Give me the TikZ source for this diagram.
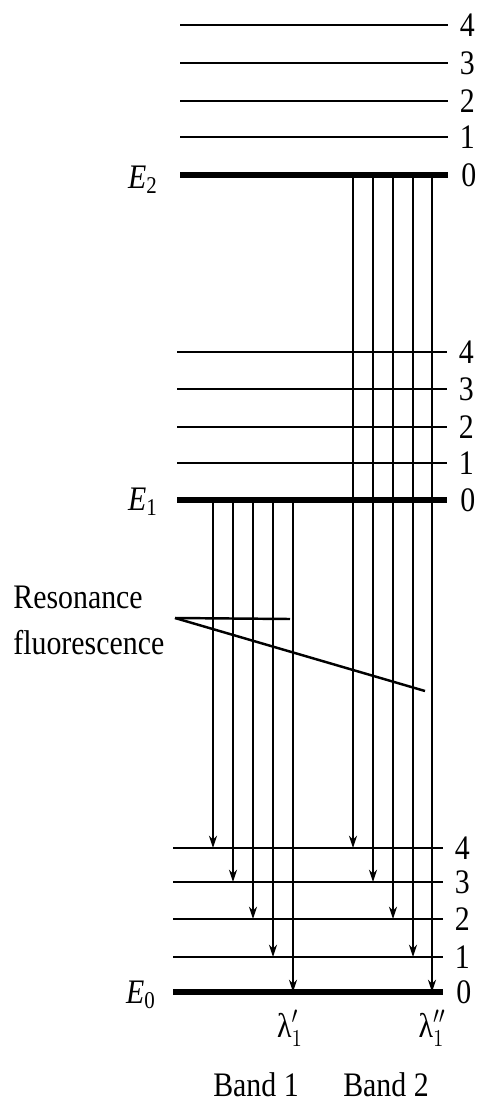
\documentclass[tikz,border=0pt]{standalone}
\usepackage{fontspec}
\setmainfont{Liberation Serif}
\usetikzlibrary{arrows.meta}
\newcommand{\bigtxt}{\fontsize{17}{22.7}\selectfont}
\tikzset{
  level/.style  = {line width=1.4pt},
  ground/.style = {line width=3.1pt},
  trans/.style  = {-{Stealth[length=7pt,width=4.6pt]},line width=0.65pt},
  vnum/.style   = {right,inner sep=0pt,xshift=6pt,yscale=1.15,font=\bigtxt},
  elab/.style   = {inner sep=0pt,yscale=1.15,font=\bigtxt}
}
% one stack of vibrational levels: name, left x, right x, y of v=4..0
\newcommand{\vibstack}[8]{%
  \foreach \v/\y in {4/#4,3/#5,2/#6,1/#7}{
    \coordinate (#1\v-L) at (#2,\y);
    \coordinate (#1\v-R) at (#3,\y);
    \draw[level] (#1\v-L) -- (#1\v-R) node[vnum]{\v};
  }
  \coordinate (#10-L) at (#2,#8);
  \coordinate (#10-R) at (#3,#8);
  \draw[ground] (#10-L) -- (#10-R) node[vnum]{0};
}

\begin{document}
\begin{tikzpicture}[x=0.02cm,y=-0.02cm]
  \useasboundingbox (0,0) rectangle (490,1109);
  \vibstack{c}{180}{448}{25}{63}{101}{137}{175}
  \vibstack{b}{177}{447}{352}{389}{427}{463}{500}
  \vibstack{a}{173}{443}{848}{882}{919}{957}{992}
  \node[elab] (E2) at (143,180) {\textit{E}\textsubscript{2}};
  \node[elab] (E1) at (143,502) {\textit{E}\textsubscript{1}};
  \node[elab] (E0) at (141,995) {\textit{E}\textsubscript{0}};
  % band 1: from E1 v=0 down to E0
  \foreach \v/\x in {4/213,3/233,2/253,1/273,0/293}{
    \coordinate (s1-\v) at (\x,503);
    \draw[trans] (s1-\v) -- (s1-\v |- a\v-L);
  }
  % band 2: from E2 v=0 down to E0
  \foreach \v/\x in {4/353,3/373,2/393,1/413,0/432}{
    \coordinate (s2-\v) at (\x,178);
    \draw[trans] (s2-\v) -- (s2-\v |- a\v-L);
  }
  % resonance fluorescence
  \node[elab,anchor=north west,align=left] (rf) at (13,586) {Resonance\\fluorescence};
  \coordinate (rf-o) at (175,618);
  \coordinate (rf-h) at (290,619);
  \coordinate (rf-s) at (425,691);
  \draw[level] (rf-o) -- (rf-h);
  \draw[level] (rf-o) -- (rf-s);
  \node[elab] (lam1) at (290,1028) {$\mbox{λ}_1'$};
  \node[elab] (lam2) at (432,1028) {$\mbox{λ}_1''$};
  \node[elab] (band1) at (256,1085) {Band 1};
  \node[elab] (band2) at (386,1085) {Band 2};
\end{tikzpicture}
\end{document}
